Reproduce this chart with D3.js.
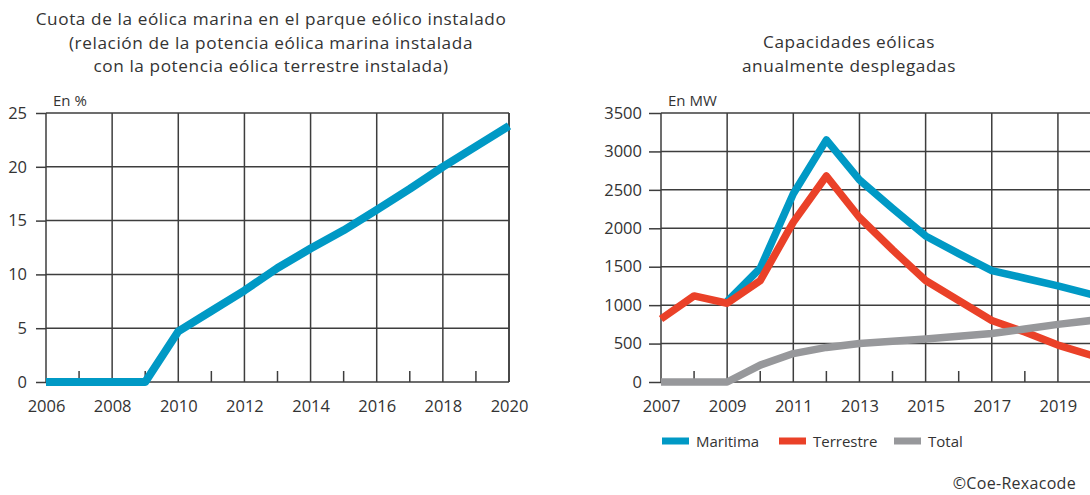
<!DOCTYPE html>
<html>
<head>
<meta charset="utf-8">
<script src="https://cdn.jsdelivr.net/npm/d3@7"></script>
<style>
  html, body { margin: 0; padding: 0; background: #ffffff; }
  svg { display: block; }
  text { font-family: "Open Sans", "Noto Sans", sans-serif; fill: #333333; }
</style>
</head>
<body>
<svg id="chart" width="1090" height="495"></svg>
<script>
// Share of offshore wind in the installed wind fleet (%)
const shareYears = [2006, 2007, 2008, 2009, 2010, 2011, 2012, 2013, 2014, 2015, 2016, 2017, 2018, 2019, 2020];
const shareValues = [0, 0, 0, 0, 4.7, 6.6, 8.5, 10.6, 12.4, 14.1, 16.0, 17.95, 20.0, 21.9, 23.8];
const shareYTicks = [0, 5, 10, 15, 20, 25];
const shareXTicks = [2006, 2008, 2010, 2012, 2014, 2016, 2018, 2020];
const shareMinorTicks = [2007, 2009, 2011, 2013, 2015, 2017, 2019];

// Yearly deployed capacity (MW)
const capYears = [2007, 2008, 2009, 2010, 2011, 2012, 2013, 2014, 2015, 2016, 2017, 2018, 2019, 2020];
const maritima = [null, null, 1050, 1480, 2450, 3150, 2630, 2260, 1900, 1670, 1450, 1350, 1250, 1140];
const terrestre = [820, 1120, 1025, 1320, 2080, 2680, 2140, 1720, 1320, 1060, 800, 650, 480, 350];
const total = [0, 0, 0, 220, 370, 450, 500, 530, 560, 595, 630, 690, 750, 800];
const capYTicks = [0, 500, 1000, 1500, 2000, 2500, 3000, 3500];
const capXTicks = [2007, 2009, 2011, 2013, 2015, 2017, 2019];
const capMinorTicks = [2008, 2010, 2012, 2014, 2016, 2018, 2020];

const seriesNames = ["Maritima", "Terrestre", "Total"];
const seriesColors = ["#0099c5", "#ea4128", "#97989b"];

const svg = d3.select("#chart");
const gridColor = "#3d3d3d";
const tickFont = 16.5;

function panel(opts) {
  const g = svg.append("g");
  const x = d3.scaleLinear().domain(opts.xDomain).range([opts.left, opts.right]);
  const y = d3.scaleLinear().domain(opts.yDomain).range([opts.bottom, opts.top]);

  // horizontal grid
  g.append("g").selectAll("line").data(opts.yTicks).join("line")
    .attr("x1", opts.left).attr("x2", opts.gridRight)
    .attr("y1", d => y(d)).attr("y2", d => y(d))
    .attr("stroke", gridColor).attr("stroke-width", 1.5);

  // vertical grid
  g.append("g").selectAll("line").data(opts.xTicks).join("line")
    .attr("x1", d => x(d)).attr("x2", d => x(d))
    .attr("y1", opts.top).attr("y2", opts.bottom)
    .attr("stroke", gridColor).attr("stroke-width", 1.5);
  if (opts.rightBorder) {
    g.append("line")
      .attr("x1", opts.right).attr("x2", opts.right)
      .attr("y1", opts.top).attr("y2", opts.bottom)
      .attr("stroke", gridColor).attr("stroke-width", 1.5);
  }

  // short inner ticks on the baseline
  g.append("g").selectAll("line").data(opts.minorTicks).join("line")
    .attr("x1", d => x(d)).attr("x2", d => x(d))
    .attr("y1", opts.bottom).attr("y2", opts.bottom - 11)
    .attr("stroke", gridColor).attr("stroke-width", 1.5);

  // y axis
  const yAxis = g.append("g")
    .attr("transform", `translate(${opts.left},0)`)
    .call(d3.axisLeft(y).tickValues(opts.yTicks).tickSize(opts.tickLen)
      .tickPadding(19 - opts.tickLen).tickFormat(d3.format("d")));
  yAxis.select(".domain").remove();
  yAxis.selectAll(".tick line").attr("stroke", gridColor).attr("stroke-width", 1.5);
  yAxis.selectAll(".tick text")
    .attr("font-family", "Open Sans, Noto Sans, sans-serif")
    .attr("font-size", tickFont).attr("fill", "#333");

  // x axis labels
  const xAxis = g.append("g")
    .attr("transform", `translate(0,${opts.bottom})`)
    .call(d3.axisBottom(x).tickValues(opts.xTicks).tickSize(0).tickPadding(18).tickFormat(d3.format("d")));
  xAxis.select(".domain").remove();
  xAxis.selectAll(".tick text")
    .attr("font-family", "Open Sans, Noto Sans, sans-serif")
    .attr("font-size", tickFont).attr("fill", "#333");

  // unit label
  g.append("text")
    .attr("x", opts.left + 7).attr("y", 106)
    .attr("font-size", 15)
    .text(opts.unit);

  // title lines
  g.append("g").selectAll("text").data(opts.title).join("text")
    .attr("x", opts.titleX)
    .attr("y", (d, i) => opts.titleY + i * 23.5)
    .attr("text-anchor", "middle")
    .attr("font-size", 17.2)
    .attr("letter-spacing", 0.6)
    .text(d => d);

  return { g, x, y };
}

// ---- left panel ----
const left = panel({
  xDomain: [2006, 2020], yDomain: [0, 25],
  left: 46, right: 509, gridRight: 509, top: 113, bottom: 382,
  yTicks: shareYTicks, xTicks: shareXTicks, minorTicks: shareMinorTicks,
  rightBorder: true, tickLen: 10,
  unit: "En %",
  title: ["Cuota de la eólica marina en el parque eólico instalado",
          "(relación de la potencia eólica marina instalada",
          "con la potencia eólica terrestre instalada)"],
  titleX: 271, titleY: 25
});

const shareLine = d3.line()
  .x((d, i) => left.x(shareYears[i]))
  .y(d => left.y(d));
left.g.append("path")
  .attr("d", shareLine(shareValues))
  .attr("fill", "none")
  .attr("stroke", seriesColors[0])
  .attr("stroke-width", 8)
  .attr("stroke-linejoin", "round");

// ---- right panel ----
const right = panel({
  xDomain: [2007, 2020], yDomain: [0, 3500],
  left: 661, right: 1091, gridRight: 1090, top: 113, bottom: 382,
  yTicks: capYTicks, xTicks: capXTicks, minorTicks: capMinorTicks,
  rightBorder: false, tickLen: 12,
  unit: "En MW",
  title: ["Capacidades eólicas", "anualmente desplegadas"],
  titleX: 849, titleY: 48
});

const capLine = d3.line()
  .defined(d => d != null)
  .x((d, i) => right.x(capYears[i]))
  .y(d => right.y(d));
[maritima, terrestre, total].forEach((vals, k) => {
  right.g.append("path")
    .attr("d", capLine(vals))
    .attr("fill", "none")
    .attr("stroke", seriesColors[k])
    .attr("stroke-width", 7.5)
    .attr("stroke-linejoin", "round");
});

// legend
const legendX = [662, 779, 894];
const legend = svg.append("g").selectAll("g").data(seriesNames).join("g")
  .attr("transform", (d, i) => `translate(${legendX[i]},441)`);
legend.append("rect")
  .attr("x", 0).attr("y", -3.5).attr("width", 27).attr("height", 7)
  .attr("fill", (d, i) => seriesColors[i]);
legend.append("text")
  .attr("x", 34).attr("y", 5.5)
  .attr("font-size", 15)
  .text(d => d);

// source
svg.append("text")
  .attr("x", 1076).attr("y", 489)
  .attr("text-anchor", "end")
  .attr("font-size", 16)
  .attr("letter-spacing", 0.3)
  .text("©Coe-Rexacode");
</script>
</body>
</html>
